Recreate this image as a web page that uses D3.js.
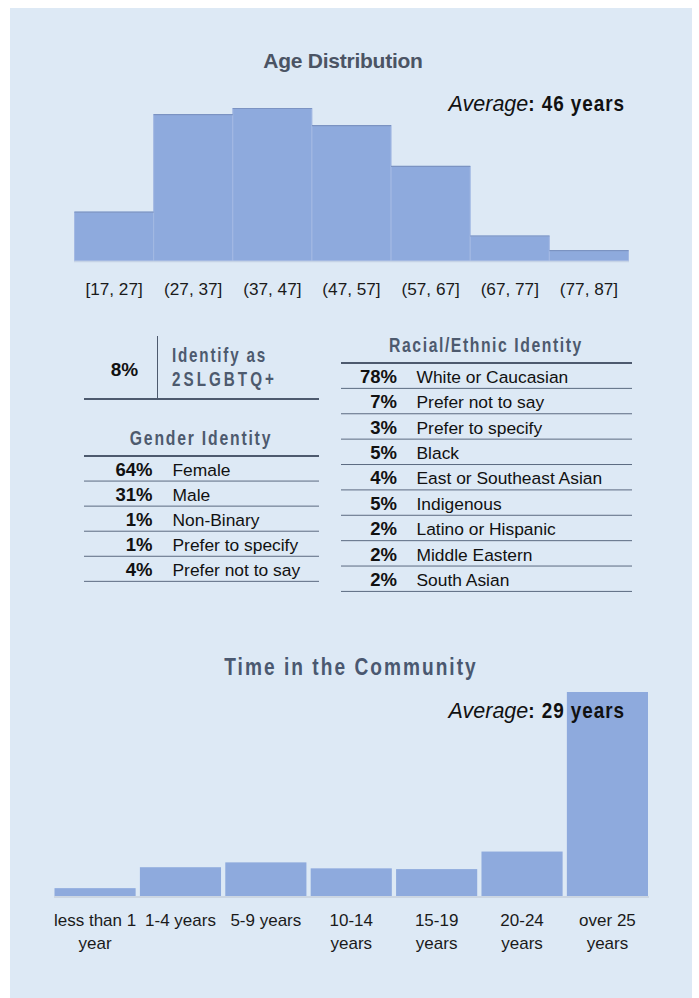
<!DOCTYPE html>
<html>
<head>
<meta charset="utf-8">
<script src="https://cdn.jsdelivr.net/npm/d3@7"></script>
<style>
  html, body { margin: 0; padding: 0; background: #ffffff; }
  svg { display: block; }
  .sans { font-family: "Liberation Sans", Arial, Helvetica, sans-serif; }
</style>
</head>
<body>
<svg id="chart" width="699" height="998"></svg>
<script>
// ---- Age distribution (share of respondents, %) ----
const ageBins = ["[17, 27]", "(27, 37]", "(37, 47]", "(47, 57]", "(57, 67]", "(67, 77]", "(77, 87]"];
const agePct = [8, 24, 25, 22.2, 15.5, 4.1, 1.7];
const ageAverage = "46 years";

// ---- Time in the community (share of respondents, %) ----
const timeCategories = ["less than 1 year", "1-4 years", "5-9 years", "10-14 years", "15-19 years", "20-24 years", "over 25 years"];
const timeTickLabels = [["less than 1", "year"], ["1-4 years"], ["5-9 years"], ["10-14", "years"], ["15-19", "years"], ["20-24", "years"], ["over 25", "years"]];
const timePct = [2.1, 7.7, 9.0, 7.4, 7.2, 11.9, 54.6];
const timeAverage = "29 years";

// ---- Identity tables ----
const lgbtqPct = "8%";
const lgbtqLabel = ["Identify as", "2SLGBTQ+"];
const genderLabels = ["Female", "Male", "Non-Binary", "Prefer to specify", "Prefer not to say"];
const genderPct = [64, 31, 1, 1, 4];
const raceLabels = ["White or Caucasian", "Prefer not to say", "Prefer to specify", "Black", "East or Southeast Asian", "Indigenous", "Latino or Hispanic", "Middle Eastern", "South Asian"];
const racePct = [78, 7, 3, 5, 4, 5, 2, 2, 2];

const svg = d3.select("#chart");
const barFill = "#8eaadd";
const slate = "#4d5a6e";
const ink = "#111111";

// Bold condensed heading: horizontally squeezed bold sans with tracking.
function condensed(parent, x, y, text, o) {
  const g = parent.append("g").attr("transform", `translate(${x},${y}) scale(${o.sx},1)`);
  const t = g.append("text").attr("class", "sans").attr("x", 0).attr("y", 0)
    .attr("text-anchor", o.anchor || "start").attr("font-size", o.size).attr("font-weight", 700)
    .attr("letter-spacing", o.ls || 0).attr("fill", o.fill || ink).text(text);
  return { g, t, width: t.node().getComputedTextLength() * o.sx };
}

// "Average: N years" label, right-aligned
function averageLabel(rightX, y, value) {
  const b = condensed(svg, rightX, y, ": " + value, { sx: 0.86, size: 22, ls: 1.1, anchor: "end" });
  svg.append("text").attr("class", "sans").attr("x", rightX - b.width).attr("y", y)
    .attr("text-anchor", "end").attr("font-size", 21.5).attr("font-style", "italic")
    .attr("font-weight", 300).attr("fill", ink).text("Average");
}

// panel background
svg.append("rect").attr("x", 10).attr("y", 8).attr("width", 682).attr("height", 990).attr("fill", "#dde9f5");

// ===== Age Distribution =====
svg.append("text").attr("class", "sans")
  .attr("x", 343).attr("y", 68).attr("text-anchor", "middle")
  .attr("font-size", 21).attr("font-weight", 700).attr("letter-spacing", -0.25)
  .attr("fill", "#4b5464").text("Age Distribution");

const ageX = d3.scaleBand().domain(ageBins).range([74.5, 628.5]).padding(0);
const ageY = d3.scaleLinear().domain([0, 25]).range([261, 108.5]);

const ageG = svg.append("g");
ageG.selectAll("rect").data(agePct).join("rect")
  .attr("x", (d, i) => ageX(ageBins[i]))
  .attr("y", d => ageY(d))
  .attr("width", ageX.bandwidth())
  .attr("height", d => ageY(0) - ageY(d))
  .attr("fill", barFill)
  .attr("stroke", "#a3b9e3").attr("stroke-width", 1);
// darker top edge of each bar
ageG.selectAll("line.top").data(agePct).join("line").attr("class", "top")
  .attr("x1", (d, i) => ageX(ageBins[i]))
  .attr("x2", (d, i) => ageX(ageBins[i]) + ageX.bandwidth())
  .attr("y1", d => ageY(d)).attr("y2", d => ageY(d))
  .attr("stroke", "#7b93c2").attr("stroke-width", 1.2);
// baseline
svg.append("line").attr("x1", 74).attr("x2", 629).attr("y1", ageY(0) + 0.5).attr("y2", ageY(0) + 0.5)
  .attr("stroke", "#c5d3e6").attr("stroke-width", 1.5);

const ageAxis = svg.append("g").attr("transform", `translate(0,${ageY(0)})`)
  .call(d3.axisBottom(ageX).tickSize(0).tickPadding(0));
ageAxis.select(".domain").remove();
ageAxis.selectAll("text").attr("class", "sans").attr("font-size", 17.2).attr("fill", "#1a1a1a")
  .attr("y", 34).attr("dy", 0);

averageLabel(625, 111, ageAverage);

// ===== 2SLGBTQ+ block =====
svg.append("text").attr("class", "sans").attr("x", 124.5).attr("y", 376).attr("text-anchor", "middle")
  .attr("font-size", 19).attr("font-weight", 700).attr("fill", ink).text(lgbtqPct);
svg.append("line").attr("x1", 157.5).attr("x2", 157.5).attr("y1", 336).attr("y2", 399).attr("stroke", slate).attr("stroke-width", 1);
condensed(svg, 172, 362, lgbtqLabel[0], { sx: 0.78, size: 19.5, ls: 2.3, fill: slate });
condensed(svg, 172, 386, lgbtqLabel[1], { sx: 0.78, size: 19.5, ls: 3.9, fill: slate });
svg.append("line").attr("x1", 84).attr("x2", 319).attr("y1", 399).attr("y2", 399).attr("stroke", slate).attr("stroke-width", 2);

// ===== generic identity table =====
function identityTable(opts) {
  const { title, titleX, titleY, ls, x0, x1, lineY, labels, pct, pctX, labelX, pitch } = opts;
  condensed(svg, titleX, titleY, title, { sx: 0.75, size: 21, ls: ls, fill: slate, anchor: "middle" });
  svg.append("line").attr("x1", x0).attr("x2", x1).attr("y1", lineY).attr("y2", lineY)
    .attr("stroke", slate).attr("stroke-width", 2);
  const rowY = d3.scaleLinear().domain([0, 1]).range([lineY, lineY + pitch]);
  const g = svg.append("g");
  const rows = g.selectAll("g").data(labels).join("g");
  rows.append("text").attr("class", "sans").attr("x", pctX).attr("y", (d, i) => rowY(i + 1) - 5.5)
    .attr("text-anchor", "end").attr("font-size", 18.5).attr("font-weight", 700).attr("fill", ink)
    .text((d, i) => pct[i] + "%");
  rows.append("text").attr("class", "sans").attr("x", labelX).attr("y", (d, i) => rowY(i + 1) - 5.5)
    .attr("font-size", 17.4).attr("fill", ink).text(d => d);
  rows.append("line").attr("x1", x0).attr("x2", x1)
    .attr("y1", (d, i) => rowY(i + 1)).attr("y2", (d, i) => rowY(i + 1))
    .attr("stroke", "#5b6a80").attr("stroke-width", 1);
}

identityTable({
  title: "Gender Identity", titleX: 201, titleY: 445, ls: 2.4, x0: 84, x1: 319, lineY: 456,
  labels: genderLabels, pct: genderPct, pctX: 152.5, labelX: 172.5, pitch: 25.07
});
identityTable({
  title: "Racial/Ethnic Identity", titleX: 486, titleY: 351.5, ls: 2.1, x0: 341, x1: 632, lineY: 363,
  labels: raceLabels, pct: racePct, pctX: 397, labelX: 416.5, pitch: 25.38
});

// ===== Time in the Community =====
condensed(svg, 351, 675, "Time in the Community", { sx: 0.78, size: 24.5, ls: 2.6, fill: "#4a5870", anchor: "middle" });

const timeX = d3.scaleBand().domain(timeCategories).range([54.5, 648]).paddingInner(0.05).paddingOuter(0);
const timeY = d3.scaleLinear().domain([0, 54.6]).range([896, 692]);

svg.append("g").selectAll("rect").data(timePct).join("rect")
  .attr("x", (d, i) => timeX(timeCategories[i]))
  .attr("y", d => timeY(d))
  .attr("width", timeX.bandwidth())
  .attr("height", d => timeY(0) - timeY(d))
  .attr("fill", barFill);
svg.append("line").attr("x1", 54).attr("x2", 649).attr("y1", timeY(0) + 1).attr("y2", timeY(0) + 1)
  .attr("stroke", "#ccd6e2").attr("stroke-width", 2);

const timeAxis = svg.append("g").attr("transform", `translate(0,${timeY(0)})`)
  .call(d3.axisBottom(timeX).tickSize(0).tickPadding(0));
timeAxis.select(".domain").remove();
timeAxis.selectAll("text").each(function(d, i) {
  const t = d3.select(this).text(null).attr("class", "sans").attr("font-size", 17)
    .attr("fill", "#1a1a1a").attr("y", 30).attr("dy", 0);
  timeTickLabels[i].forEach((line, k) => {
    t.append("tspan").attr("x", 0).attr("y", 30 + k * 22.7).text(line);
  });
});

averageLabel(625, 718, timeAverage);
</script>
</body>
</html>
